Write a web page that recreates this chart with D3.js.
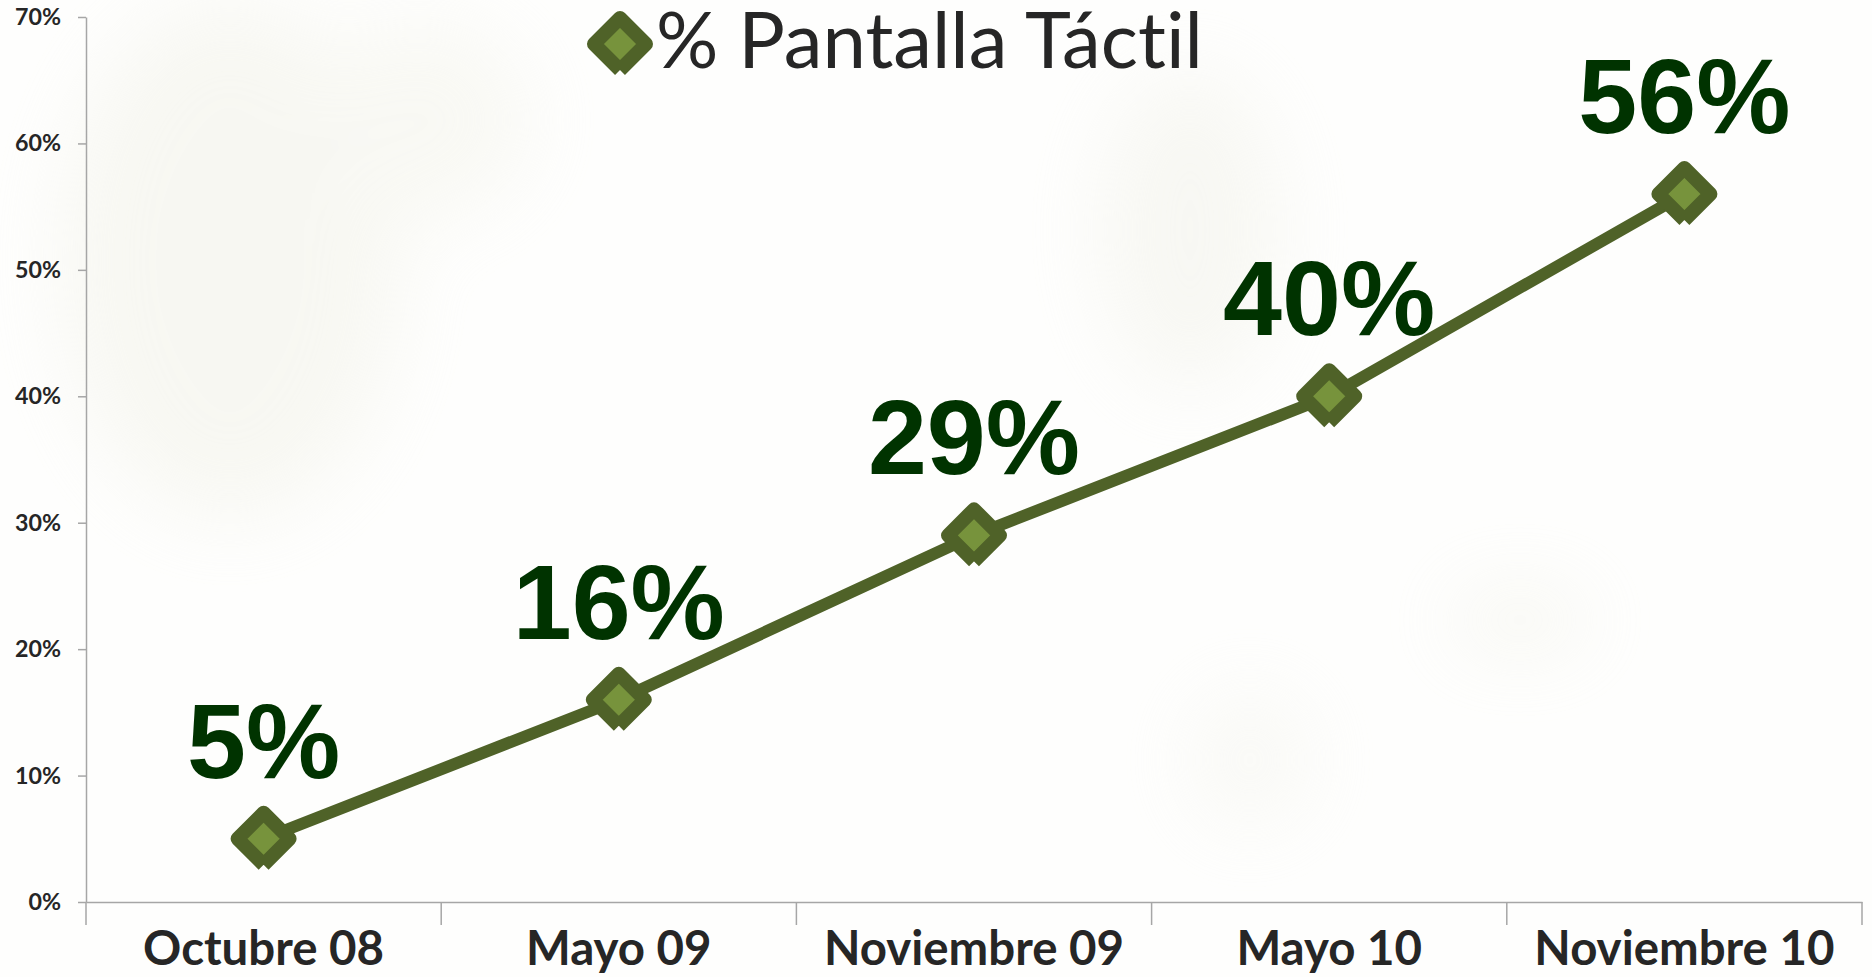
<!DOCTYPE html>
<html>
<head>
<meta charset="utf-8">
<script src="https://cdn.jsdelivr.net/npm/d3@7"></script>
<style>
  html, body { margin: 0; padding: 0; background: #ffffff; }
  svg { display: block; }
  text { font-variant-ligatures: none; font-feature-settings: "liga" 0, "clig" 0, "dlig" 0, "calt" 0; }
</style>
</head>
<body>
<svg id="chart" width="1872" height="977"></svg>
<script>
// ---- data ----
const categories = ["Octubre 08", "Mayo 09", "Noviembre 09", "Mayo 10", "Noviembre 10"];
const touchShare = [0.05, 0.16, 0.29, 0.40, 0.56];
const yTicks = [0, 0.1, 0.2, 0.3, 0.4, 0.5, 0.6, 0.7];
const seriesName = "% Pantalla Táctil";

// ---- layout ----
const W = 1872, H = 977;
const plot = { left: 86, right: 1862, top: 17, bottom: 902 };
const darkOlive = "#4f6228", lightOlive = "#77933c", labelGreen = "#003300";
const axisGray = "#a6a6a6", textDark = "#262626";

const svg = d3.select("#chart");

// faint photographic background
const defs = svg.append("defs");
const blur = defs.append("filter").attr("id", "blur").attr("x", "-50%").attr("y", "-50%").attr("width", "200%").attr("height", "200%");
blur.append("feGaussianBlur").attr("stdDeviation", 40);
svg.append("rect").attr("width", W).attr("height", H).attr("fill", "#fefefd");
const bg = svg.append("g").attr("filter", "url(#blur)").attr("opacity", 0.4);
bg.append("ellipse").attr("cx", 230).attr("cy", 260).attr("rx", 170).attr("ry", 260).attr("fill", "#eeeee2");
bg.append("ellipse").attr("cx", 420).attr("cy", 120).attr("rx", 110).attr("ry", 100).attr("fill", "#f1f1e6");
bg.append("ellipse").attr("cx", 1190).attr("cy", 230).attr("rx", 90).attr("ry", 160).attr("fill", "#eeeee4");
bg.append("ellipse").attr("cx", 1520).attr("cy", 620).attr("rx", 70).attr("ry", 30).attr("fill", "#ececdf");
bg.append("ellipse").attr("cx", 1250).attr("cy", 760).attr("rx", 60).attr("ry", 70).attr("fill", "#f2f2ea");

const x = d3.scaleBand().domain(categories).range([plot.left, plot.right]).padding(0);
const y = d3.scaleLinear().domain([0, 0.7]).range([plot.bottom, plot.top]);

// helper: fit font size so sample text has target width
function fitSize(family, weight, sample, target) {
  const t = svg.append("text").attr("font-family", family).attr("font-weight", weight)
    .attr("font-size", 100).text(sample);
  const w = t.node().getComputedTextLength();
  t.remove();
  return 100 * target / w;
}
const axisFont = "Lato, 'Open Sans', sans-serif";
const labelFont = "'Liberation Sans', Arial, sans-serif";

// ---- Y axis ----
const ySize = fitSize(axisFont, 700, "30%", 46);
const yAxis = svg.append("g")
  .attr("transform", `translate(${plot.left},0)`)
  .call(d3.axisLeft(y).tickValues(yTicks).tickFormat(d3.format(".0%")).tickSize(8).tickSizeOuter(0).tickPadding(17));
yAxis.select(".domain").attr("stroke", axisGray).attr("stroke-width", 1.5);
yAxis.selectAll(".tick line").attr("stroke", axisGray).attr("stroke-width", 1.5);
yAxis.selectAll(".tick text").attr("font-family", axisFont).attr("font-weight", 700)
  .attr("font-size", ySize).attr("fill", textDark);

// ---- X axis ----
const xSize = fitSize(axisFont, 700, categories[0], 241);
const xAxis = svg.append("g")
  .attr("transform", `translate(0,${plot.bottom})`)
  .call(d3.axisBottom(x).tickSize(0).tickSizeOuter(0).tickPadding(0));
xAxis.select(".domain").attr("stroke", axisGray).attr("stroke-width", 1.5);
xAxis.selectAll(".tick text").attr("font-family", axisFont).attr("font-weight", 700)
  .attr("font-size", xSize).attr("fill", textDark).attr("dy", null).attr("y", 63);
// category boundary ticks
const boundaries = categories.map(c => x(c)).concat([x.range()[1]]);
xAxis.selectAll(".bound").data(boundaries).join("line").attr("class", "bound")
  .attr("x1", d => d).attr("x2", d => d).attr("y1", 0).attr("y2", 23)
  .attr("stroke", axisGray).attr("stroke-width", 1.5);

// ---- series ----
const pts = categories.map((c, i) => ({ c, v: touchShare[i], px: x(c) + x.bandwidth() / 2, py: y(touchShare[i]) }));

svg.append("path").datum(pts)
  .attr("d", d3.line().x(d => d.px).y(d => d.py))
  .attr("fill", "none").attr("stroke", darkOlive).attr("stroke-width", 12).attr("stroke-linejoin", "round");

const r = 26;
const diamond = `M0,${r}L${-r},0L0,${-r}L${r},0L0,${r}`;
function marker(sel) {
  sel.append("path").attr("d", diamond).attr("fill", lightOlive).attr("stroke", darkOlive)
    .attr("stroke-width", 14).attr("stroke-linejoin", "round").attr("stroke-linecap", "butt");
}
svg.selectAll(".mk").data(pts).join("g").attr("class", "mk")
  .attr("transform", d => `translate(${d.px},${d.py})`).call(marker);

// data labels
svg.selectAll(".dl").data(pts).join("text").attr("class", "dl")
  .attr("x", d => d.px).attr("y", d => d.py - 61)
  .attr("text-anchor", "middle").attr("font-family", labelFont).attr("font-weight", 700)
  .attr("font-size", 106).attr("fill", labelGreen)
  .text(d => d3.format(".0%")(d.v));

// ---- legend ----
const legend = svg.append("g");
legend.append("g").attr("transform", "translate(620,44)").call(marker);
const legSize = fitSize(axisFont, 400, seriesName, 547);
legend.append("text").attr("x", 656).attr("y", 68)
  .attr("font-family", axisFont).attr("font-weight", 400).attr("font-size", legSize)
  .attr("fill", textDark)
  .style("font-variant-ligatures", "none")
  .style("font-feature-settings", "'liga' 0, 'clig' 0, 'dlig' 0, 'calt' 0")
  .text(seriesName);
</script>
</body>
</html>
